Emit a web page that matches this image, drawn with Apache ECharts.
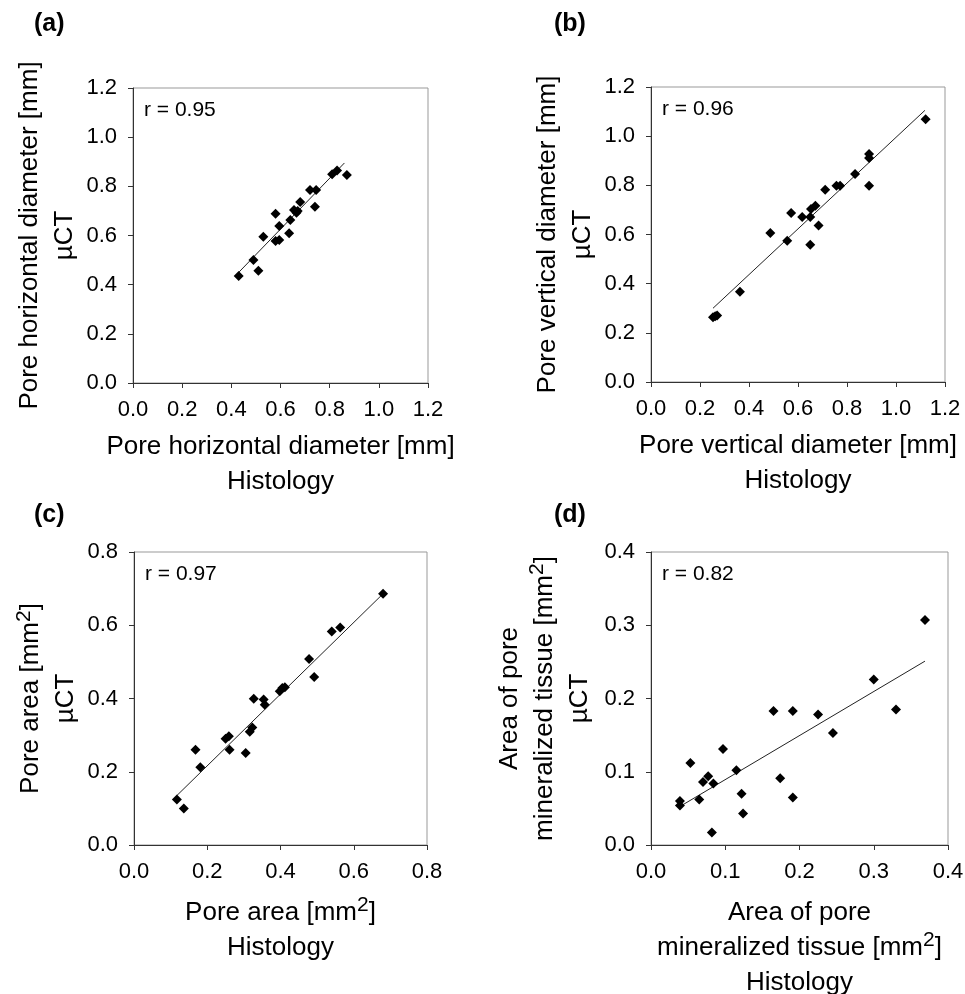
<!DOCTYPE html>
<html>
<head>
<meta charset="utf-8">
<script src="https://cdn.jsdelivr.net/npm/echarts@6/dist/echarts.min.js"></script>
<style>
  html, body { margin: 0; padding: 0; background: #fff; }
  #chart { width: 965px; height: 994px; }
</style>
</head>
<body>
<div id="chart"></div>
<script>
// (a) pore horizontal diameter
var aX = [0.43, 0.49, 0.51, 0.53, 0.58, 0.595, 0.58, 0.595, 0.635, 0.64, 0.655, 0.665, 0.67, 0.68, 0.72, 0.745, 0.74, 0.81, 0.83, 0.87];
var aY = [0.435, 0.50, 0.457, 0.595, 0.688, 0.639, 0.578, 0.582, 0.609, 0.663, 0.704, 0.693, 0.70, 0.736, 0.785, 0.785, 0.717, 0.849, 0.864, 0.846];
var aFit = [[0.43, 0.45], [0.86, 0.895]];

// (b) pore vertical diameter
var bX = [0.253, 0.262, 0.27, 0.363, 0.487, 0.556, 0.572, 0.617, 0.65, 0.65, 0.653, 0.671, 0.684, 0.711, 0.757, 0.772, 0.833, 0.89, 0.89, 0.89, 1.121];
var bY = [0.263, 0.267, 0.271, 0.367, 0.606, 0.575, 0.687, 0.671, 0.671, 0.558, 0.704, 0.717, 0.637, 0.782, 0.798, 0.798, 0.846, 0.927, 0.911, 0.798, 1.069];
var bFit = [[0.253, 0.30], [1.118, 1.105]];

// (c) pore area
var cX = [0.117, 0.136, 0.168, 0.181, 0.25, 0.259, 0.261, 0.305, 0.316, 0.323, 0.327, 0.354, 0.357, 0.398, 0.405, 0.412, 0.478, 0.492, 0.54, 0.563, 0.68];
var cY = [0.124, 0.10, 0.26, 0.212, 0.29, 0.297, 0.26, 0.251, 0.309, 0.321, 0.399, 0.397, 0.383, 0.42, 0.429, 0.431, 0.508, 0.459, 0.583, 0.594, 0.686];
var cFit = [[0.117, 0.135], [0.68, 0.686]];

// (d) area of pore mineralized tissue
var dX = [0.039, 0.039, 0.053, 0.065, 0.07, 0.077, 0.082, 0.084, 0.097, 0.115, 0.122, 0.124, 0.165, 0.174, 0.191, 0.191, 0.225, 0.245, 0.30, 0.33, 0.369];
var dY = [0.06, 0.054, 0.112, 0.062, 0.086, 0.094, 0.017, 0.084, 0.131, 0.102, 0.07, 0.043, 0.183, 0.091, 0.183, 0.065, 0.178, 0.153, 0.226, 0.185, 0.307];
var dFit = [[0.043, 0.055], [0.369, 0.251]];

var rValues = ['r = 0.95', 'r = 0.96', 'r = 0.97', 'r = 0.82'];
var panelTags = ['(a)', '(b)', '(c)', '(d)'];

var FONT = 'Liberation Sans, Arial, sans-serif';
var supStyle = {
  sup: { fontSize: 21, lineHeight: 21, verticalAlign: 'top', fontFamily: FONT, color: '#000' }
};

var panels = [
  { x: aX, y: aY, fit: aFit, max: 1.2, step: 0.2,
    grid: { left: 133, top: 88, width: 295, height: 295 },
    xName: 'Pore horizontal diameter [mm]\nHistology',
    yName: 'Pore horizontal diameter [mm]\nµCT', xGap: 46, yGap: 51 },
  { x: bX, y: bY, fit: bFit, max: 1.2, step: 0.2,
    grid: { left: 651, top: 87, width: 294, height: 295 },
    xName: 'Pore vertical diameter [mm]\nHistology',
    yName: 'Pore vertical diameter [mm]\nµCT', xGap: 46, yGap: 51 },
  { x: cX, y: cY, fit: cFit, max: 0.8, step: 0.2,
    grid: { left: 134, top: 552, width: 293, height: 293 },
    xName: 'Pore area [mm{sup|2}]\nHistology',
    yName: 'Pore area [mm{sup|2}]\nµCT', xGap: 50, yGap: 50 },
  { x: dX, y: dY, fit: dFit, max: 0.4, step: 0.1,
    grid: { left: 651, top: 552, width: 297, height: 293 },
    xName: 'Area of pore\nmineralized tissue [mm{sup|2}]\nHistology',
    yName: 'Area of pore\nmineralized tissue [mm{sup|2}]\nµCT', xGap: 50, yGap: 54 }
];

function axisCommon(p, name, gap, isY) {
  return {
    type: 'value',
    min: 0,
    max: p.max,
    interval: p.step,
    name: name,
    nameLocation: 'middle',
    nameGap: gap,
    nameRotate: isY ? 90 : 0,
    nameTextStyle: {
      fontFamily: FONT, fontSize: 26, lineHeight: 35, color: '#000',
      rich: supStyle
    },
    axisLine: { show: true, lineStyle: { color: '#333', width: 1 } },
    axisTick: { show: true, inside: false, length: 5, lineStyle: { color: '#333' } },
    axisLabel: {
      fontFamily: FONT, fontSize: 22, color: '#000', margin: 16,
      formatter: function (v) { return v.toFixed(1); }
    },
    splitLine: { show: false }
  };
}

var grids = [], xAxes = [], yAxes = [], series = [], graphics = [];
panels.forEach(function (p, i) {
  grids.push(Object.assign({
    show: true, borderColor: '#999', borderWidth: 1,
    backgroundColor: 'transparent', containLabel: false, outerBoundsMode: 'none'
  }, p.grid));
  var xa = axisCommon(p, p.xName, p.xGap, false); xa.gridIndex = i;
  var ya = axisCommon(p, p.yName, p.yGap, true); ya.gridIndex = i;
  xAxes.push(xa);
  yAxes.push(ya);
  // trend line
  series.push({
    type: 'line',
    xAxisIndex: i, yAxisIndex: i,
    data: p.fit,
    symbol: 'none',
    lineStyle: { color: '#222', width: 1 },
    silent: true,
    z: 2
  });
  series.push({
    type: 'scatter',
    xAxisIndex: i, yAxisIndex: i,
    data: p.x.map(function (v, k) { return [v, p.y[k]]; }),
    symbol: 'diamond',
    symbolSize: 10,
    itemStyle: { color: '#000', opacity: 1 },
    z: 3
  });
  graphics.push({
    type: 'text',
    left: p.grid.left + 11,
    top: p.grid.top + 12,
    style: { text: rValues[i], fontFamily: FONT, fontSize: 21, fill: '#000' }
  });
  graphics.push({
    type: 'text',
    left: i % 2 === 0 ? 34 : 554,
    top: i < 2 ? 12 : 503,
    style: { text: panelTags[i], fontFamily: FONT, fontSize: 25, fontWeight: 'bold', fill: '#000' }
  });
});

var chart = echarts.init(document.getElementById('chart'), null, { renderer: 'canvas' });
chart.setOption({
  backgroundColor: '#fff',
  animation: false,
  grid: grids,
  xAxis: xAxes,
  yAxis: yAxes,
  series: series,
  graphic: graphics
});
</script>
</body>
</html>
